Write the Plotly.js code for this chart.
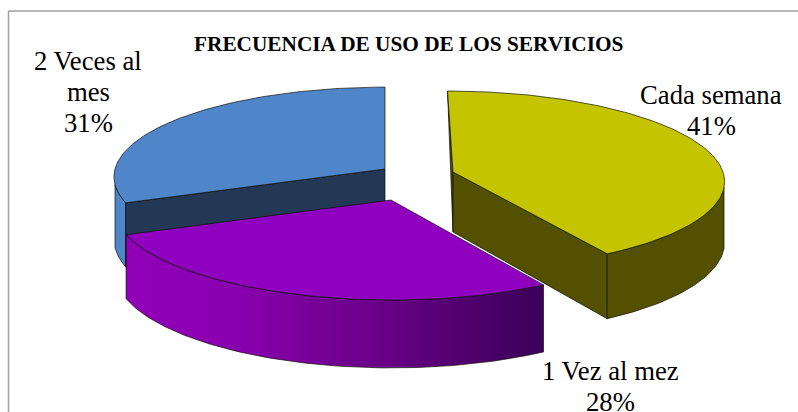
<!DOCTYPE html>
<html>
<head>
<meta charset="utf-8">
<script src="https://cdn.plot.ly/plotly-3.0.1.min.js"></script>
<style>
  body { margin: 0; background: #ffffff; }
  #plot { width: 798px; height: 412px; }
</style>
</head>
<body>
<div id="plot"></div>
<script>
// chart data
var titleText = "FRECUENCIA DE USO DE LOS SERVICIOS";
var labels = ["Cada semana", "1 Vez al mez", "2 Veces al<br>mes"];
var values = [41.49, 27.51, 31];

// colours of each slice
var topColors = ["#c4c400", "#9000bf", "#4f85c9"];
var wallColors = ["#535000", "#6a0088", "#4f85c9"];
var innerColors = ["#535000", "#6a0088", "#233855"];

// where each exploded slice sits on the page, nearer slices are a bit larger
var apexX = [453, 391, 385];
var apexY = [172, 200, 169];
var radiusX = [270, 276, 270];
var radiusY = [88, 91.3, 89];
var depth = [60, 62, 62];
var labelX = [711, 610, 88];
var labelY = [95, 371, 61];

// projection of the tilted pie
var perspective = 0.087;
var vanishX = 385;

function project(i, deg, down) {
  var t = deg * Math.PI / 180;
  var X = Math.sin(t);
  var Y = -Math.cos(t);
  var s = 1 / (1 - perspective * Y);
  return {
    x: apexX[i] + radiusX[i] * X * s + (apexX[i] - vanishX) * (s - 1),
    y: apexY[i] + radiusY[i] * Y * s + (down ? depth[i] * s : 0)
  };
}

// apex point, on top or on the bottom of the slice
function apex(i, down) {
  return { x: apexX[i], y: apexY[i] + (down ? depth[i] : 0) };
}

function arc(i, from, to, down) {
  var pts = [];
  var step = to > from ? 1 : -1;
  var n = Math.ceil(Math.abs(to - from));
  for (var k = 0; k <= n; k++) {
    var d = k == n ? to : from + k * step;
    pts.push(project(i, d, down));
  }
  return pts;
}

function polygon(pts, color, gradient) {
  var trace = {
    x: pts.map(function (p) { return p.x; }).concat([pts[0].x]),
    y: pts.map(function (p) { return p.y; }).concat([pts[0].y]),
    mode: "lines",
    fill: "toself",
    fillcolor: color,
    line: { color: "#10100c", width: 0.7 },
    hoverinfo: "skip",
    showlegend: false
  };
  if (gradient) {
    trace.fillgradient = { type: "horizontal", colorscale: gradient };
  }
  return trace;
}

// angles of the slice edges, clockwise from the back of the pie
var total = values.reduce(function (a, b) { return a + b; }, 0);
var starts = [];
var ends = [];
var running = 0;
values.forEach(function (v) {
  starts.push(running);
  running += v / total * 360;
  ends.push(running);
});

var purpleWall = [
  [0, "#9000b8"],
  [0.25, "#8a00b0"],
  [0.6, "#6a0088"],
  [1, "#3a0058"]
];

var traces = [];

// blue goes first, purple covers the bottom of its walls
var b = 2;
traces.push(polygon(arc(b, starts[b], 260, false).concat(arc(b, 260, starts[b], true)), wallColors[b]));
traces.push(polygon([apex(b, false), project(b, starts[b], false), project(b, starts[b], true), apex(b, true)], innerColors[b]));
traces.push(polygon([apex(b, false)].concat(arc(b, starts[b], ends[b], false)), topColors[b]));

// purple
var p = 1;
traces.push(polygon(arc(p, starts[p], ends[p], false).concat(arc(p, ends[p], starts[p], true)), wallColors[p], purpleWall));
traces.push(polygon([apex(p, false)].concat(arc(p, starts[p], ends[p], false)), topColors[p]));

// yellow
var y = 0;
traces.push(polygon([project(y, starts[y], false), apex(y, false), apex(y, true)], innerColors[y]));
traces.push(polygon([apex(y, false), project(y, ends[y], false), project(y, ends[y], true), apex(y, true)], innerColors[y]));
traces.push(polygon(arc(y, 100, ends[y], false).concat(arc(y, ends[y], 100, true)), wallColors[y]));
traces.push(polygon([apex(y, false)].concat(arc(y, starts[y], ends[y], false)), topColors[y]));

// one annotation per text line, the original line spacing is wider than plotly's
var lineGap = 31;
var annotations = [];
labels.forEach(function (label, i) {
  var lines = label.split("<br>").concat([Math.round(values[i]) + "%"]);
  lines.forEach(function (line, k) {
    annotations.push({
      x: labelX[i],
      y: labelY[i] + k * lineGap,
      xref: "x",
      yref: "y",
      text: line,
      showarrow: false,
      xanchor: "center",
      yanchor: "middle",
      font: { family: "Liberation Serif", size: 26.7, color: "#000000" }
    });
  });
});
annotations.push({
  x: 408,
  y: 44,
  xref: "x",
  yref: "y",
  text: "<b>" + titleText + "</b>",
  showarrow: false,
  xanchor: "center",
  yanchor: "middle",
  font: { family: "Liberation Serif", size: 21.3, color: "#000000" }
});

var layout = {
  width: 798,
  height: 412,
  margin: { l: 0, r: 0, t: 0, b: 0 },
  paper_bgcolor: "#ffffff",
  plot_bgcolor: "#ffffff",
  showlegend: false,
  xaxis: { range: [0, 798], visible: false, fixedrange: true },
  yaxis: { range: [412, 0], visible: false, fixedrange: true },
  annotations: annotations,
  shapes: [
    { type: "line", xref: "x", yref: "y", x0: 8.5, x1: 8.5, y0: 11, y1: 412, line: { color: "#a0a0a0", width: 1.5 } },
    { type: "line", xref: "x", yref: "y", x0: 8.5, x1: 798, y0: 11, y1: 11, line: { color: "#a0a0a0", width: 1.5 } }
  ]
};

Plotly.newPlot("plot", traces, layout, { displayModeBar: false });
</script>
</body>
</html>
